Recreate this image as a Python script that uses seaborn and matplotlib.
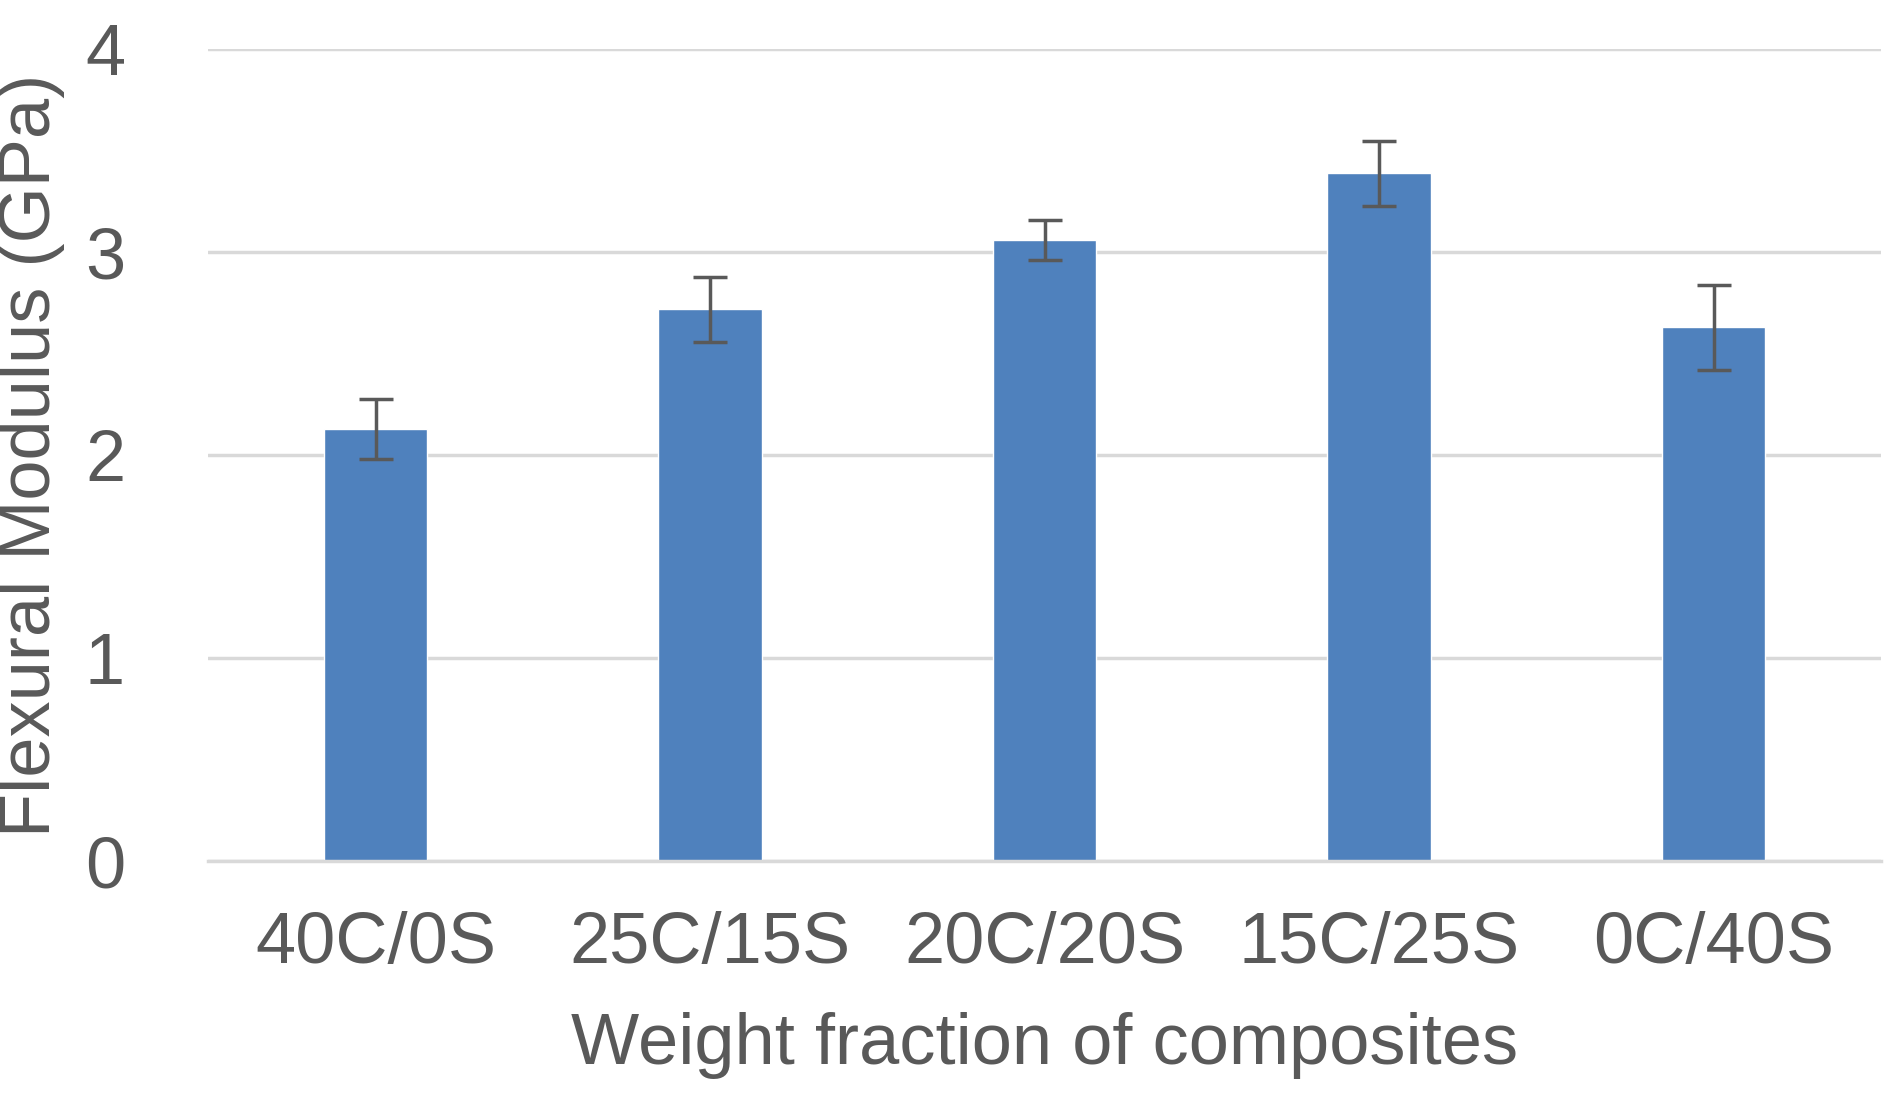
import matplotlib
matplotlib.use("Agg")
import matplotlib.pyplot as plt
import pandas as pd
import seaborn as sns

categories = ["40C/0S", "25C/15S", "20C/20S", "15C/25S", "0C/40S"]
modulus = [2.13, 2.72, 3.06, 3.39, 2.63]
errors = [0.15, 0.16, 0.10, 0.16, 0.21]

sns.set_theme(style="white")
plt.rcParams["font.family"] = ["Liberation Sans", "DejaVu Sans"]
grey = "#595959"

df = pd.DataFrame({"cat": categories, "val": modulus})
fig = plt.figure(figsize=(18.94, 10.96), dpi=100)
ax = fig.add_axes([0.11, 0.214, 0.883, 0.741])
sns.barplot(data=df, x="cat", y="val", color="#4f81bd", saturation=1, width=0.31, ax=ax, errorbar=None)
ax.errorbar(range(len(categories)), modulus, yerr=errors, fmt="none", ecolor=grey, elinewidth=2.5, capsize=12, capthick=2.5)

ax.set_xlim(-0.5, len(categories) - 0.5)
ax.set_ylim(0, 4)
ax.set_yticks([0, 1, 2, 3, 4])
ax.yaxis.grid(True, color="#d9d9d9", linewidth=2.5)
ax.set_axisbelow(True)
for s in ["top", "right", "left"]:
    ax.spines[s].set_visible(False)
ax.spines["bottom"].set_color("#d9d9d9")
ax.spines["bottom"].set_linewidth(2.5)
ax.tick_params(axis="both", labelsize=52, colors=grey, length=0)
ax.tick_params(axis="x", pad=36)
ax.tick_params(axis="y", pad=60)
ax.set_xlabel("Weight fraction of composites", fontsize=52, color=grey, labelpad=24)
ax.set_ylabel("Flexural Modulus (GPa)", fontsize=52, color=grey, labelpad=14)

fig.savefig("out.png", dpi=100)
